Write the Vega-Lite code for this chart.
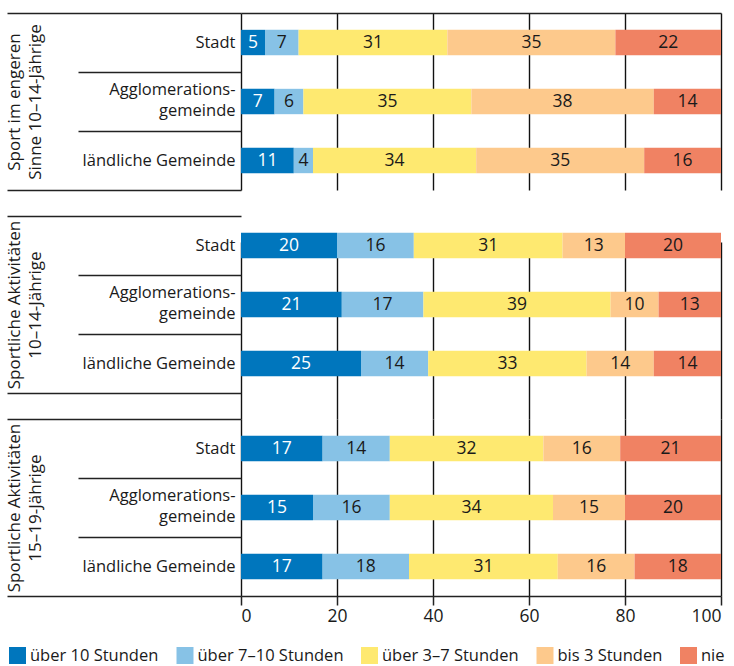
{
  "$schema": "https://vega.github.io/schema/vega-lite/v6.json",
  "padding": {"left": 5, "top": 5, "right": 0, "bottom": 0},
  "bounds": "flush",
  "data": {"values": [
    {"group": "A", "place": "Stadt", "über 10 Stunden": 5, "über 7–10 Stunden": 7, "über 3–7 Stunden": 31, "bis 3 Stunden": 35, "nie": 22},
    {"group": "A", "place": "Agglomerationsgemeinde", "über 10 Stunden": 7, "über 7–10 Stunden": 6, "über 3–7 Stunden": 35, "bis 3 Stunden": 38, "nie": 14},
    {"group": "A", "place": "ländliche Gemeinde", "über 10 Stunden": 11, "über 7–10 Stunden": 4, "über 3–7 Stunden": 34, "bis 3 Stunden": 35, "nie": 16},
    {"group": "B", "place": "Stadt", "über 10 Stunden": 20, "über 7–10 Stunden": 16, "über 3–7 Stunden": 31, "bis 3 Stunden": 13, "nie": 20},
    {"group": "B", "place": "Agglomerationsgemeinde", "über 10 Stunden": 21, "über 7–10 Stunden": 17, "über 3–7 Stunden": 39, "bis 3 Stunden": 10, "nie": 13},
    {"group": "B", "place": "ländliche Gemeinde", "über 10 Stunden": 25, "über 7–10 Stunden": 14, "über 3–7 Stunden": 33, "bis 3 Stunden": 14, "nie": 14},
    {"group": "C", "place": "Stadt", "über 10 Stunden": 17, "über 7–10 Stunden": 14, "über 3–7 Stunden": 32, "bis 3 Stunden": 16, "nie": 21},
    {"group": "C", "place": "Agglomerationsgemeinde", "über 10 Stunden": 15, "über 7–10 Stunden": 16, "über 3–7 Stunden": 34, "bis 3 Stunden": 15, "nie": 20},
    {"group": "C", "place": "ländliche Gemeinde", "über 10 Stunden": 17, "über 7–10 Stunden": 18, "über 3–7 Stunden": 31, "bis 3 Stunden": 16, "nie": 18}
  ]},
  "transform": [
    {"fold": ["über 10 Stunden", "über 7–10 Stunden", "über 3–7 Stunden", "bis 3 Stunden", "nie"], "as": ["cat", "value"]},
    {"calculate": "indexof(['über 10 Stunden', 'über 7–10 Stunden', 'über 3–7 Stunden', 'bis 3 Stunden', 'nie'], datum.cat)", "as": "ord"}
  ],
  "spacing": 0,
  "resolve": {"scale": {"color": "shared"}},
  "vconcat": [
    {
      "width": 480, "height": 203,
      "transform": [{"filter": "datum.group === 'A'"}],
      "encoding": {
        "y": {"field": "place", "type": "nominal", "sort": ["Stadt", "Agglomerationsgemeinde", "ländliche Gemeinde"],
          "scale": {"range": [0, 177], "padding": 0},
          "axis": {"title": ["Sport im engeren", "Sinne 10–14-Jährige"], "titlePadding": -3,
            "tickBand": "extent",
            "tickSize": {"condition": {"test": "abs(datum.index) === 1", "value": 234}, "value": 163},
            "labelPadding": {"condition": {"test": "abs(datum.index) === 1", "value": -228}, "value": -157},
            "labelOffset": {"condition": {"test": "datum.value === 'Agglomerationsgemeinde'", "value": -12}, "value": 0},
            "labelExpr": "datum.value === 'Agglomerationsgemeinde' ? ['Agglomerations-', 'gemeinde'] : datum.label"}},
        "x": {"field": "value", "type": "quantitative", "stack": "zero", "scale": {"domain": [0, 100]},
          "axis": {"orient": "top", "labels": false, "ticks": false, "domain": true, "grid": true, "title": null, "values": [0, 20, 40, 60, 80, 100]}}
      },
      "layer": [
        {"mark": {"type": "bar", "height": {"band": 0.43}},
         "encoding": {"color": {"field": "cat", "type": "nominal"}, "order": {"field": "ord"}}},
        {"mark": {"type": "text", "fontSize": 17.5},
         "encoding": {"x": {"field": "value", "type": "quantitative", "stack": "zero", "bandPosition": 0.5},
           "detail": {"field": "cat"}, "order": {"field": "ord"}, "text": {"field": "value"},
           "color": {"condition": {"test": "datum.cat === 'über 10 Stunden'", "value": "white"}, "value": "#1a1a1a"}}}
      ]
    },
    {
      "width": 480, "height": 203,
      "transform": [{"filter": "datum.group === 'B'"}],
      "encoding": {
        "y": {"field": "place", "type": "nominal", "sort": ["Stadt", "Agglomerationsgemeinde", "ländliche Gemeinde"],
          "scale": {"range": [0, 177], "padding": 0},
          "axis": {"title": ["Sportliche Aktivitäten", "10–14-Jährige"], "titlePadding": -3,
            "tickBand": "extent",
            "tickSize": {"condition": {"test": "abs(datum.index) === 1", "value": 234}, "value": 163},
            "labelPadding": {"condition": {"test": "abs(datum.index) === 1", "value": -228}, "value": -157},
            "labelOffset": {"condition": {"test": "datum.value === 'Agglomerationsgemeinde'", "value": -12}, "value": 0},
            "labelExpr": "datum.value === 'Agglomerationsgemeinde' ? ['Agglomerations-', 'gemeinde'] : datum.label"}},
        "x": {"field": "value", "type": "quantitative", "stack": "zero", "scale": {"domain": [0, 100]},
          "axis": {"labels": false, "ticks": false, "domain": false, "grid": true, "title": null, "values": [0, 20, 40, 60, 80, 100]}}
      },
      "layer": [
        {"mark": {"type": "bar", "height": {"band": 0.43}},
         "encoding": {"color": {"field": "cat", "type": "nominal"}, "order": {"field": "ord"}}},
        {"mark": {"type": "text", "fontSize": 17.5},
         "encoding": {"x": {"field": "value", "type": "quantitative", "stack": "zero", "bandPosition": 0.5},
           "detail": {"field": "cat"}, "order": {"field": "ord"}, "text": {"field": "value"},
           "color": {"condition": {"test": "datum.cat === 'über 10 Stunden'", "value": "white"}, "value": "#1a1a1a"}}}
      ]
    },
    {
      "width": 480, "height": 177,
      "transform": [{"filter": "datum.group === 'C'"}],
      "encoding": {
        "y": {"field": "place", "type": "nominal", "sort": ["Stadt", "Agglomerationsgemeinde", "ländliche Gemeinde"],
          "scale": {"range": [0, 177], "padding": 0},
          "axis": {"title": ["Sportliche Aktivitäten", "15–19-Jährige"], "titlePadding": -3,
            "tickBand": "extent",
            "tickSize": {"condition": {"test": "abs(datum.index) === 1", "value": 234}, "value": 163},
            "labelPadding": {"condition": {"test": "abs(datum.index) === 1", "value": -228}, "value": -157},
            "labelOffset": {"condition": {"test": "datum.value === 'Agglomerationsgemeinde'", "value": -12}, "value": 0},
            "labelExpr": "datum.value === 'Agglomerationsgemeinde' ? ['Agglomerations-', 'gemeinde'] : datum.label"}},
        "x": {"field": "value", "type": "quantitative", "stack": "zero", "scale": {"domain": [0, 100]},
          "axis": {"orient": "bottom", "labels": true, "ticks": true, "tickSize": 9, "domain": true, "grid": true, "title": null, "values": [0, 20, 40, 60, 80, 100], "labelPadding": 2}}
      },
      "layer": [
        {"mark": {"type": "bar", "height": {"band": 0.43}},
         "encoding": {"color": {"field": "cat", "type": "nominal",
            "scale": {"domain": ["über 10 Stunden", "über 7–10 Stunden", "über 3–7 Stunden", "bis 3 Stunden", "nie"],
                      "range": ["#0076BD", "#87C2E6", "#FEE970", "#FDC98C", "#F08263"]},
            "legend": {"orient": "none", "legendX": -232, "legendY": 634, "direction": "horizontal", "title": null}},
           "order": {"field": "ord"}}},
        {"mark": {"type": "text", "fontSize": 17.5},
         "encoding": {"x": {"field": "value", "type": "quantitative", "stack": "zero", "bandPosition": 0.5},
           "detail": {"field": "cat"}, "order": {"field": "ord"}, "text": {"field": "value"},
           "color": {"condition": {"test": "datum.cat === 'über 10 Stunden'", "value": "white"}, "value": "#1a1a1a"}}}
      ]
    }
  ],
  "config": {
    "font": "Open Sans",
    "view": {"stroke": null},
    "axis": {"labelFontSize": 16.5, "labelColor": "#1a1a1a", "labelLineHeight": 21, "titleFontSize": 17, "titleFontWeight": "normal", "titleColor": "#1a1a1a", "titleLineHeight": 21,
      "tickColor": "#222", "tickWidth": 1.5, "domainColor": "#222", "domainWidth": 1.5, "gridColor": "#111", "gridWidth": 1.4, "gridOpacity": 1},
    "axisX": {"labelFontSize": 17.5},
    "axisY": {"domain": false, "grid": false},
    "legend": {"symbolType": "square", "symbolSize": 289, "symbolStrokeWidth": 0, "symbolOpacity": 1, "labelFontSize": 16.5, "labelColor": "#1a1a1a", "columnPadding": 17.5, "labelOffset": 4, "padding": 0}
  }
}
